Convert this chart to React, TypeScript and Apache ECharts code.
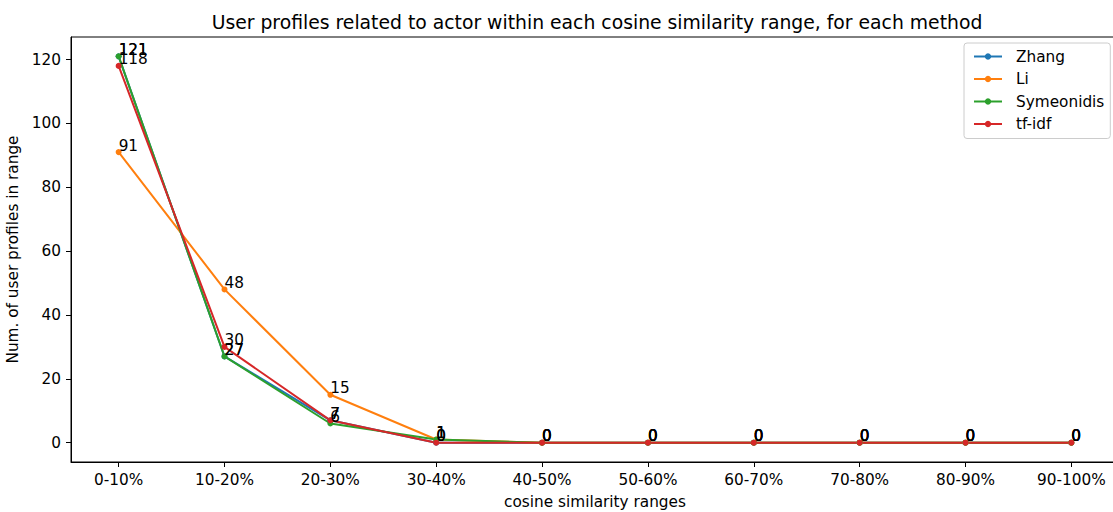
import React, { useEffect, useRef } from "react";
import * as echarts from "echarts";

const categories = [
  "0-10%", "10-20%", "20-30%", "30-40%", "40-50%",
  "50-60%", "60-70%", "70-80%", "80-90%", "90-100%",
];

const zhang = [121, 27, 7, 0, 0, 0, 0, 0, 0, 0];
const li = [91, 48, 15, 1, 0, 0, 0, 0, 0, 0];
const symeonidis = [121, 27, 6, 1, 0, 0, 0, 0, 0, 0];
const tfidf = [118, 30, 7, 0, 0, 0, 0, 0, 0, 0];

const yTicks = [0, 20, 40, 60, 80, 100, 120];

const methods = [
  { name: "Zhang", values: zhang, color: "#1f77b4" },
  { name: "Li", values: li, color: "#ff7f0e" },
  { name: "Symeonidis", values: symeonidis, color: "#2ca02c" },
  { name: "tf-idf", values: tfidf, color: "#d62728" },
];

const FONT = "DejaVu Sans";
const FS = 15.3;

export default function App() {
  const ref = useRef<HTMLDivElement>(null);

  useEffect(() => {
    if (!ref.current) return;
    const chart = echarts.init(ref.current, undefined, { renderer: "svg" });
    const xIdx = categories.map((_, i) => i);

    chart.setOption({
      animation: false,
      backgroundColor: "#ffffff",
      textStyle: { fontFamily: FONT, color: "#000" },
      title: {
        text: "User profiles related to actor within each cosine similarity range, for each method",
        left: 592,
        top: 8,
        textAlign: "center",
        textStyle: { fontFamily: FONT, fontSize: 18.8, fontWeight: "normal", color: "#000" },
      },
      legend: {
        orient: "vertical",
        left: 964,
        top: 43,
        padding: [6, 6, 7, 9],
        itemWidth: 28,
        itemHeight: 8,
        itemGap: 7.5,
        backgroundColor: "#ffffff",
        borderColor: "#cccccc",
        borderWidth: 1,
        borderRadius: 3,
        textStyle: { fontFamily: FONT, fontSize: FS, color: "#000", padding: [0, 0, 0, 9] },
        data: methods.map((m) => m.name),
      },
      grid: {
        left: 71,
        top: 37,
        width: 1048,
        height: 425,
        show: true,
        borderColor: "#000",
        borderWidth: 1,
        backgroundColor: "transparent",
        containLabel: false,
        outerBoundsMode: "none",
      },
      xAxis: {
        type: "value",
        min: -0.45,
        max: 9.45,
        name: "cosine similarity ranges",
        nameLocation: "middle",
        nameGap: 32,
        nameTextStyle: { fontFamily: FONT, fontSize: FS, color: "#000" },
        splitLine: { show: false },
        axisLine: { show: true, onZero: false, lineStyle: { color: "#000", width: 1 } },
        axisTick: { show: true, inside: false, length: 5, lineStyle: { color: "#000" }, customValues: xIdx },
        axisLabel: {
          customValues: xIdx,
          margin: 10,
          fontFamily: FONT,
          fontSize: FS,
          color: "#000",
          formatter: (v: number) => categories[Math.round(v)] ?? "",
        },
      },
      yAxis: {
        type: "value",
        min: -6.05,
        max: 127.05,
        name: "Num. of user profiles in range",
        nameLocation: "middle",
        nameGap: 46,
        nameTextStyle: { fontFamily: FONT, fontSize: FS, color: "#000" },
        splitLine: { show: false },
        axisLine: { show: true, onZero: false, lineStyle: { color: "#000", width: 1 } },
        axisTick: { show: true, inside: false, length: 5, lineStyle: { color: "#000" }, customValues: yTicks },
        axisLabel: { customValues: yTicks, margin: 10, fontFamily: FONT, fontSize: FS, color: "#000" },
      },
      series: methods.map((m) => ({
        name: m.name,
        type: "line",
        data: m.values.map((v, i) => [i, v]),
        color: m.color,
        symbol: "circle",
        symbolSize: 6,
        showSymbol: true,
        lineStyle: { width: 2, color: m.color },
        itemStyle: { color: m.color },
        label: {
          show: true,
          position: [3, 4],
          align: "left",
          verticalAlign: "bottom",
          fontFamily: FONT,
          fontSize: FS,
          color: "#000",
          formatter: (p: any) => String(p.value[1]),
        },
        emphasis: { disabled: true },
      })),
    });

    return () => chart.dispose();
  }, []);

  return (
    <div
      ref={ref}
      style={{ position: "fixed", left: 0, top: 0, width: 1113, height: 512, overflow: "hidden" }}
    />
  );
}
